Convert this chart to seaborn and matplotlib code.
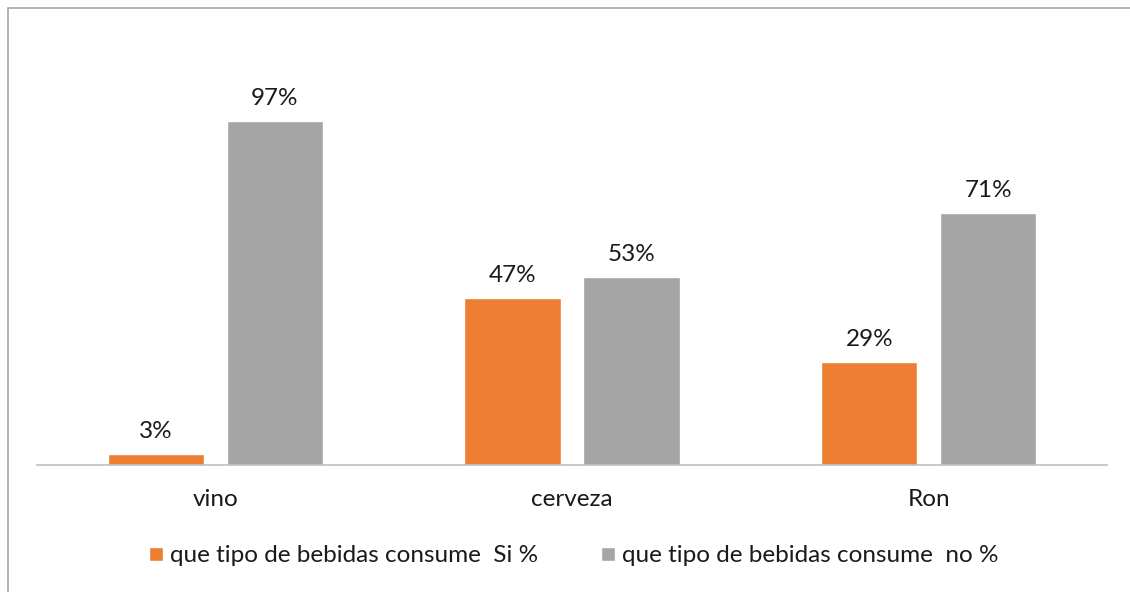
import pandas as pd
import seaborn as sns
import matplotlib.pyplot as plt
from matplotlib.patches import Rectangle

categorias = ["vino", "cerveza", "Ron"]
si_pct = [3, 47, 29]
no_pct = [97, 53, 71]
series = ["que tipo de bebidas consume  Si %", "que tipo de bebidas consume  no %"]
colores = ["#ED7D31", "#A5A5A5"]

df = pd.DataFrame({
    "bebida": categorias * 2,
    "serie": [series[0]] * 3 + [series[1]] * 3,
    "pct": si_pct + no_pct,
})

sns.set_theme(style="white")
plt.rcParams['font.family'] = ['Lato', 'DejaVu Sans']

fig = plt.figure(figsize=(11.3, 5.92), dpi=100)
ax = fig.add_axes([37 / 1130, 1 - 465 / 592, 1070 / 1130, 445 / 592])

sns.barplot(data=df, x="bebida", y="pct", hue="serie", palette=colores,
            width=0.667, gap=0.19, saturation=1, ax=ax, legend=True)

for cont in ax.containers:
    ax.bar_label(cont, fmt="%d%%", padding=9, fontsize=17.5, color="#1a1a1a")

ax.set_ylim(0, 125.5)
ax.set_xlim(-0.5, 2.5)
ax.set_xlabel("")
ax.set_ylabel("")
ax.set_yticks([])
ax.tick_params(axis="x", length=0, pad=17, labelsize=17.5, labelcolor="#1a1a1a")
for s in ["top", "right", "left"]:
    ax.spines[s].set_visible(False)
ax.spines["bottom"].set_color("#BFBFBF")
ax.spines["bottom"].set_linewidth(1.2)

handles, labels = ax.get_legend_handles_labels()
ax.get_legend().remove()
fig.legend(handles, labels, loc="center", bbox_to_anchor=(0.508, 1 - 556 / 592),
           ncol=2, frameon=False, fontsize=17.5, handlelength=0.55, handleheight=0.55,
           handletextpad=0.3, columnspacing=2.6, labelcolor="#1a1a1a")

# marco del grafico
fig.add_artist(Rectangle((8 / 1130, -0.05), 1.2, 1 - 8 / 592 + 0.05,
                         transform=fig.transFigure, fill=False,
                         edgecolor="#A6A6A6", linewidth=1.2, clip_on=False))

fig.savefig("out.png", dpi=100)
